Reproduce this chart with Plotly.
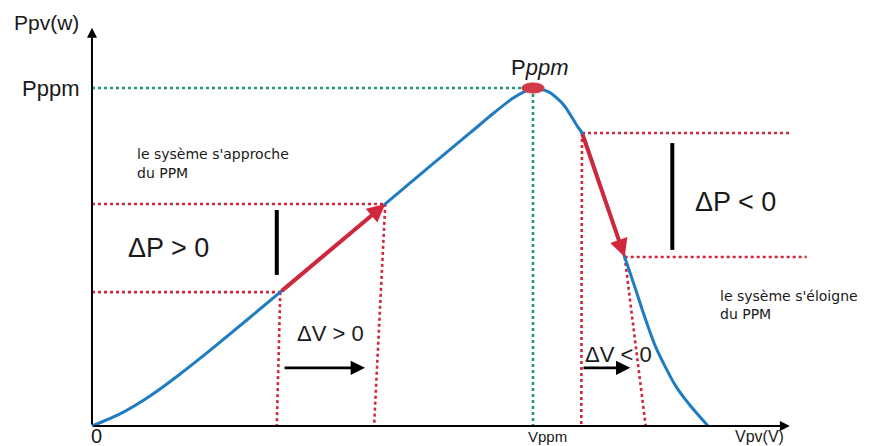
import plotly.graph_objects as go

# P-V curve (arbitrary units: P normalised so that Pppm = 100)
curve_v = [0, 4.0, 8.3, 12.6, 17.3, 26.9, 34.4, 41.9, 48.3, 54.0, 57.4, 60.0, 61.9, 63,
           65.3, 67.4, 69.3, 70.0, 72.6, 76.1, 77.6, 79.0, 80.4, 81.9, 83.4, 85.4, 88]
curve_p = [0, 3.6, 8.9, 15.4, 23.1, 39.6, 52.7, 65.7, 76.9, 86.7, 92.6, 96.8, 99.1, 100,
           98.8, 95.0, 88.8, 86.7, 71.3, 50.0, 40.8, 32.0, 24.0, 17.5, 11.8, 6.2, 0]

v_ppm, p_ppm = 63, 100

# operating points: left side (approaching MPP), right side (moving away)
left_v = [26.9, 41.9]
left_p = [39.6, 65.7]
left_feet = [26.4, 40.3]
right_v = [70.0, 76.1]
right_p = [86.7, 50.0]
right_feet = [69.9, 79.1]
right_ends = [100.0, 102.1]

# black markers
bar_left = dict(v=26.4, p=[63.9, 44.7])
bar_right = dict(v=82.9, p=[83.7, 52.1])
arrow_dv_pos = dict(v=[27.3, 39.0], p=17.2)
arrow_dv_neg = dict(v=[70.0, 76.9], p=17.2)

axis_v_max, axis_p_max = 99.7, 117.8

RED = "#d0283a"
BLUE = "#1f7cc1"
GREEN = "#22977a"
FONT = "Liberation Sans, Arial, sans-serif"
NOTE_FONT = "DejaVu Sans, sans-serif"

fig = go.Figure()

def dotted(xs, ys, color):
    fig.add_trace(go.Scatter(x=xs, y=ys, mode="lines",
                             line=dict(color=color, width=2.6, dash="dot"),
                             hoverinfo="skip", showlegend=False))

# green reference lines to MPP
dotted([0, v_ppm], [p_ppm, p_ppm], GREEN)
dotted([v_ppm, v_ppm], [p_ppm, 0], GREEN)

# red dotted guides
for v, p, f in zip(left_v, left_p, left_feet):
    dotted([0, v], [p, p], RED)
    dotted([v, f], [p, 0], RED)
for v, p, f, e in zip(right_v, right_p, right_feet, right_ends):
    dotted([v, e], [p, p], RED)
    dotted([v, f], [p, 0], RED)

# the P-V curve
fig.add_trace(go.Scatter(x=curve_v, y=curve_p, mode="lines",
                         line=dict(color=BLUE, width=3, shape="spline", smoothing=0.7),
                         hoverinfo="skip", showlegend=False))

# black vertical bars
for b in (bar_left, bar_right):
    fig.add_trace(go.Scatter(x=[b["v"], b["v"]], y=b["p"], mode="lines",
                             line=dict(color="black", width=4),
                             hoverinfo="skip", showlegend=False))

# MPP marker (ellipse)
fig.add_shape(type="circle", xref="x", yref="y",
              x0=v_ppm - 1.6, x1=v_ppm + 1.6, y0=p_ppm - 1.5, y1=p_ppm + 1.5,
              fillcolor="#d23a48", line=dict(color="#d23a48", width=1))

def arrow(x0, y0, x1, y1, color, width, head=2, size=1.0):
    fig.add_annotation(x=x1, y=y1, ax=x0, ay=y0, xref="x", yref="y", axref="x", ayref="y",
                       showarrow=True, arrowhead=head, arrowsize=size, arrowwidth=width,
                       arrowcolor=color, standoff=0, startstandoff=0, text="")

# red tracking segments
arrow(left_v[0], left_p[0], left_v[1], left_p[1], RED, 4, head=2, size=0.9)
arrow(right_v[0], right_p[0], right_v[1], right_p[1], RED, 4, head=2, size=0.9)

# black delta V arrows
arrow(arrow_dv_pos["v"][0], arrow_dv_pos["p"], arrow_dv_pos["v"][1], arrow_dv_pos["p"], "black", 2.6, head=2, size=1.1)
arrow(arrow_dv_neg["v"][0], arrow_dv_neg["p"], arrow_dv_neg["v"][1], arrow_dv_neg["p"], "black", 2.6, head=2, size=1.1)

# axes
arrow(0, 0, axis_v_max, 0, "black", 2, head=2, size=1.0)
arrow(0, 0, 0, axis_p_max, "black", 2, head=2, size=1.0)

def label(text, x, y, size, xanchor="left", yanchor="middle", family=FONT):
    fig.add_annotation(x=x, y=y, xref="x", yref="y", text=text, showarrow=False,
                       xanchor=xanchor, yanchor=yanchor,
                       font=dict(family=family, size=size, color="#1a1a1a"))

label("Ppv(w)", -11.4, 119.5, 21)
label("Pppm", -5.9, 100, 22, xanchor="center")
label("P<i>ppm</i>", 64, 106.2, 22, xanchor="center")
label("0", 0.7, -2.9, 20, xanchor="center")
label("Vppm", 65.1, -3.2, 15, xanchor="center")
label("Vpv(V)", 95.3, -3.2, 16, xanchor="center")
label("ΔP > 0", 4.9, 52.7, 27)
label("ΔP < 0", 85.9, 66.3, 27)
label("ΔV > 0", 29.0, 27.5, 22)
label("ΔV < 0", 70.1, 21.3, 22)
label("le sysème s'approche", 6.1, 80.4, 14, family=NOTE_FONT)
label("du PPM", 6.1, 74.9, 14, family=NOTE_FONT)
label("le sysème s'éloigne", 89.4, 38.5, 14, family=NOTE_FONT)
label("du PPM", 89.4, 33.0, 14, family=NOTE_FONT)

fig.update_layout(
    width=893, height=446,
    margin=dict(l=0, r=0, t=0, b=0),
    paper_bgcolor="white", plot_bgcolor="white",
    xaxis=dict(range=[-13.14, 114.43], visible=False, fixedrange=True),
    yaxis=dict(range=[-5.92, 126.04], visible=False, fixedrange=True),
    showlegend=False,
)

fig.write_html("out.html", config={"displayModeBar": False},
               post_script="document.body.style.margin='0';document.body.style.overflow='hidden';")
